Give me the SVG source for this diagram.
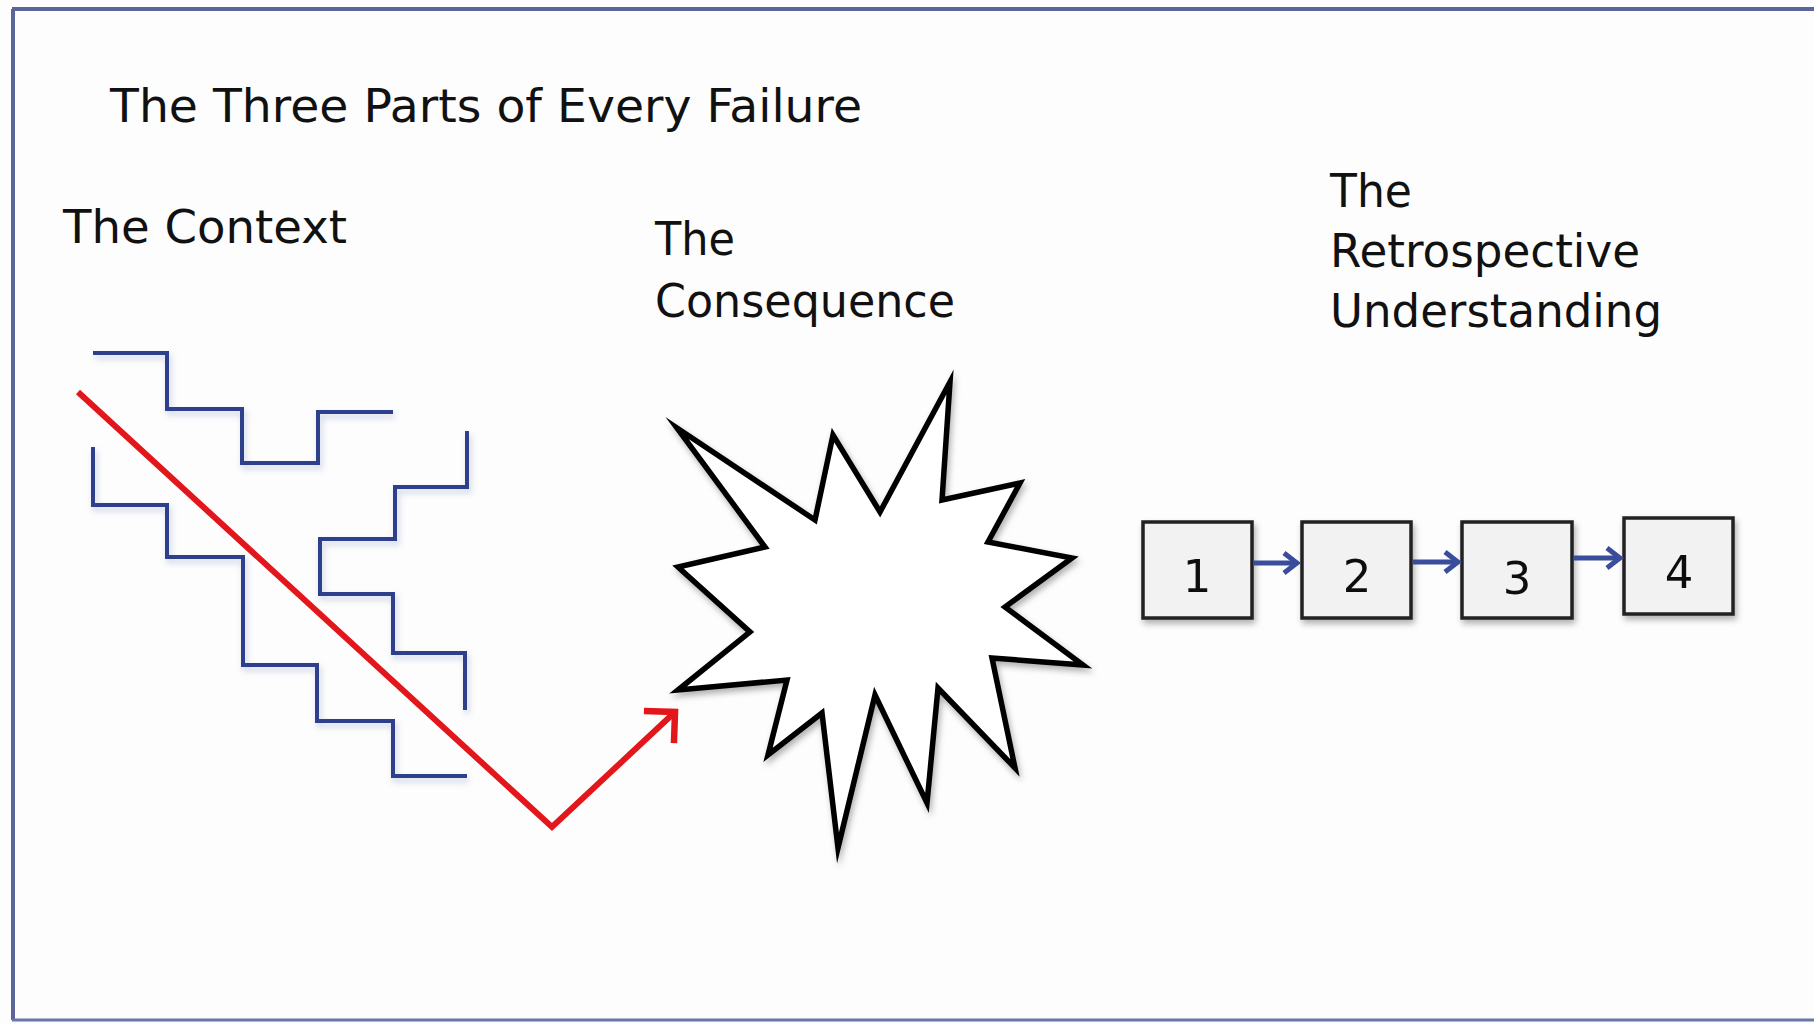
<svg xmlns="http://www.w3.org/2000/svg" width="1814" height="1024" viewBox="0 0 1814 1024">
<style>
  .t { font-family: "DejaVu Sans", Verdana, sans-serif; font-size: 47px; fill: #111; }
  .num { font-family: "DejaVu Sans", Verdana, sans-serif; font-size: 45px; fill: #111; text-anchor: middle; }
  .stair { fill: none; stroke: #2f3f8c; stroke-width: 4; stroke-linejoin: miter; }
  .box { fill: #f2f2f2; stroke: #222; stroke-width: 3.5; }
  .blue { fill: none; stroke: #3a4c9c; stroke-width: 5; }
  .red { fill: none; stroke: #e3161c; stroke-width: 6; stroke-linejoin: miter; }
</style>
<defs>
  <filter id="sh" x="-10%" y="-10%" width="130%" height="130%">
    <feDropShadow dx="2" dy="4" stdDeviation="3" flood-color="#7080b8" flood-opacity="0.35"/>
  </filter>
  <filter id="shk" x="-10%" y="-10%" width="130%" height="130%">
    <feDropShadow dx="2" dy="4" stdDeviation="3" flood-color="#000" flood-opacity="0.3"/>
  </filter>
  <marker id="bluehead" markerUnits="userSpaceOnUse" viewBox="-18 -14 22 28" refX="0" refY="0" markerWidth="22" markerHeight="28" orient="auto">
    <path d="M-13,-10 L0,0 L-13,10" fill="none" stroke="#3a4c9c" stroke-width="5"/>
  </marker>
  <marker id="redhead" markerUnits="userSpaceOnUse" viewBox="-30 -30 36 60" refX="0" refY="0" markerWidth="36" markerHeight="60" orient="auto">
    <path d="M-22,-22 L0,0 L-22,22" fill="none" stroke="#e3161c" stroke-width="6.5"/>
  </marker>
</defs>
<rect x="0" y="0" width="1814" height="1024" fill="#fdfdfd"/>
<g id="frame">
  <line x1="12" y1="9" x2="1814" y2="9" stroke="#5a6598" stroke-width="4"/>
  <line x1="13" y1="9" x2="13" y2="1020" stroke="#5a6598" stroke-width="4"/>
  <line x1="12" y1="1020" x2="1814" y2="1020" stroke="#6a75a8" stroke-width="3"/>
</g>
<g id="title">
  <text class="t" x="110" y="122" textLength="752" lengthAdjust="spacingAndGlyphs">The Three Parts of Every Failure</text>
</g>
<g id="context">
  <text class="t" x="63" y="243" textLength="284" lengthAdjust="spacingAndGlyphs">The Context</text>
  <g filter="url(#sh)">
    <polyline class="stair" points="93,353 167,353 167,409 242,409 242,463 318,463 318,412 393,412"/>
    <polyline class="stair" points="93,447 93,505 167,505 167,557 243,557 243,665 317,665 317,721 393,721 393,776 467,776"/>
    <polyline class="stair" points="467,431 467,487 395,487 395,539 320,539 320,594 393,594 393,653 465,653 465,710"/>
  </g>
</g>
<g id="consequence">
  <text class="t" x="655" y="255" textLength="80" lengthAdjust="spacingAndGlyphs">The</text>
  <text class="t" x="655" y="317" textLength="300" lengthAdjust="spacingAndGlyphs">Consequence</text>
  <polygon filter="url(#shk)" fill="#fff" stroke="#000" stroke-width="5.5" stroke-linejoin="miter" stroke-miterlimit="20" points="677,428 815,520 833,435 880,512 950,382 942,500 1020,483 988,542 1072,558 1005,607 1083,665 992,658 1015,768 938,688 927,803 875,695 838,848 822,713 768,755 787,680 678,690 750,632 678,567 765,547"/>
</g>
<g id="understanding">
  <text class="t" x="1330" y="207" textLength="82" lengthAdjust="spacingAndGlyphs">The</text>
  <text class="t" x="1330" y="267" textLength="310" lengthAdjust="spacingAndGlyphs">Retrospective</text>
  <text class="t" x="1330" y="327" textLength="332" lengthAdjust="spacingAndGlyphs">Understanding</text>
</g>
<g id="step1" filter="url(#shk)">
  <rect class="box" x="1143" y="522" width="109" height="96"/>
  <text class="num" x="1197" y="592">1</text>
</g>
<g id="step2" filter="url(#shk)">
  <rect class="box" x="1302" y="522" width="109" height="96"/>
  <text class="num" x="1357" y="592">2</text>
</g>
<g id="step3" filter="url(#shk)">
  <rect class="box" x="1462" y="522" width="110" height="96"/>
  <text class="num" x="1517" y="594">3</text>
</g>
<g id="step4" filter="url(#shk)">
  <rect class="box" x="1624" y="518" width="109" height="96"/>
  <text class="num" x="1679" y="588">4</text>
</g>
<g id="connectors">
  <polyline class="red" points="78,392 552,827 675,712" marker-end="url(#redhead)"/>
  <line class="blue" x1="1254" y1="563" x2="1297" y2="563" marker-end="url(#bluehead)"/>
  <line class="blue" x1="1413" y1="562" x2="1458" y2="562" marker-end="url(#bluehead)"/>
  <line class="blue" x1="1574" y1="558" x2="1620" y2="558" marker-end="url(#bluehead)"/>
</g>
</svg>
